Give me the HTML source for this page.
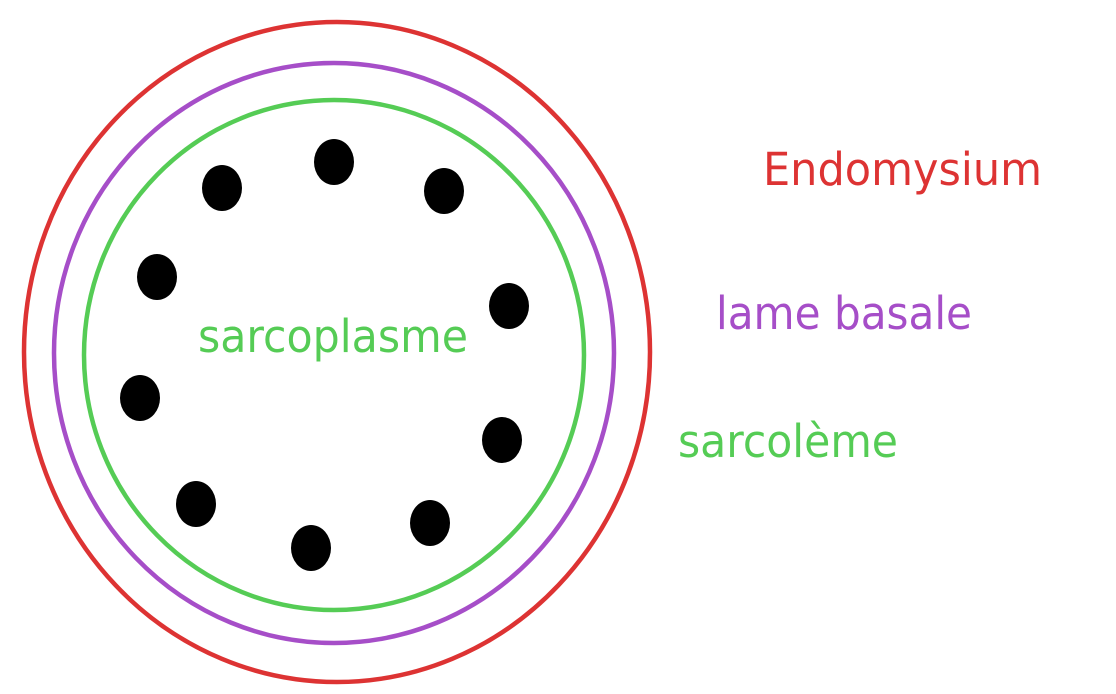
<!DOCTYPE html>
<html><head><meta charset="utf-8"><style>html,body{margin:0;padding:0;background:#fff}svg{display:block}</style></head>
<body>
<svg width="1116" height="694" viewBox="0 0 1116 694" xmlns="http://www.w3.org/2000/svg">
<rect width="1116" height="694" fill="#fff"/>
<ellipse cx="337" cy="352" rx="313" ry="330" fill="none" stroke="#dd3333" stroke-width="4.5"/>
<ellipse cx="334" cy="353" rx="280" ry="290" fill="none" stroke="#a64ec8" stroke-width="4.5"/>
<ellipse cx="334" cy="355" rx="250" ry="255" fill="none" stroke="#55cc55" stroke-width="4.5"/>
<g fill="#000">
<ellipse cx="334" cy="162" rx="20" ry="23"/>
<ellipse cx="222" cy="188" rx="20" ry="23"/>
<ellipse cx="444" cy="191" rx="20" ry="23"/>
<ellipse cx="157" cy="277" rx="20" ry="23"/>
<ellipse cx="509" cy="306" rx="20" ry="23"/>
<ellipse cx="140" cy="398" rx="20" ry="23"/>
<ellipse cx="502" cy="440" rx="20" ry="23"/>
<ellipse cx="196" cy="504" rx="20" ry="23"/>
<ellipse cx="430" cy="523" rx="20" ry="23"/>
<ellipse cx="311" cy="548" rx="20" ry="23"/>
</g>
<g font-family="'DejaVu Sans', 'Liberation Sans', sans-serif" font-size="45">
<text x="763" y="185" fill="#dd3333" textLength="279" lengthAdjust="spacingAndGlyphs">Endomysium</text>
<text x="716" y="329" fill="#a64ec8" textLength="256" lengthAdjust="spacingAndGlyphs">lame basale</text>
<text x="678" y="457" fill="#55cc55" textLength="220" lengthAdjust="spacingAndGlyphs">sarcolème</text>
<text x="198" y="352" fill="#55cc55" textLength="270" lengthAdjust="spacingAndGlyphs">sarcoplasme</text>
</g>
</svg>
</body></html>
